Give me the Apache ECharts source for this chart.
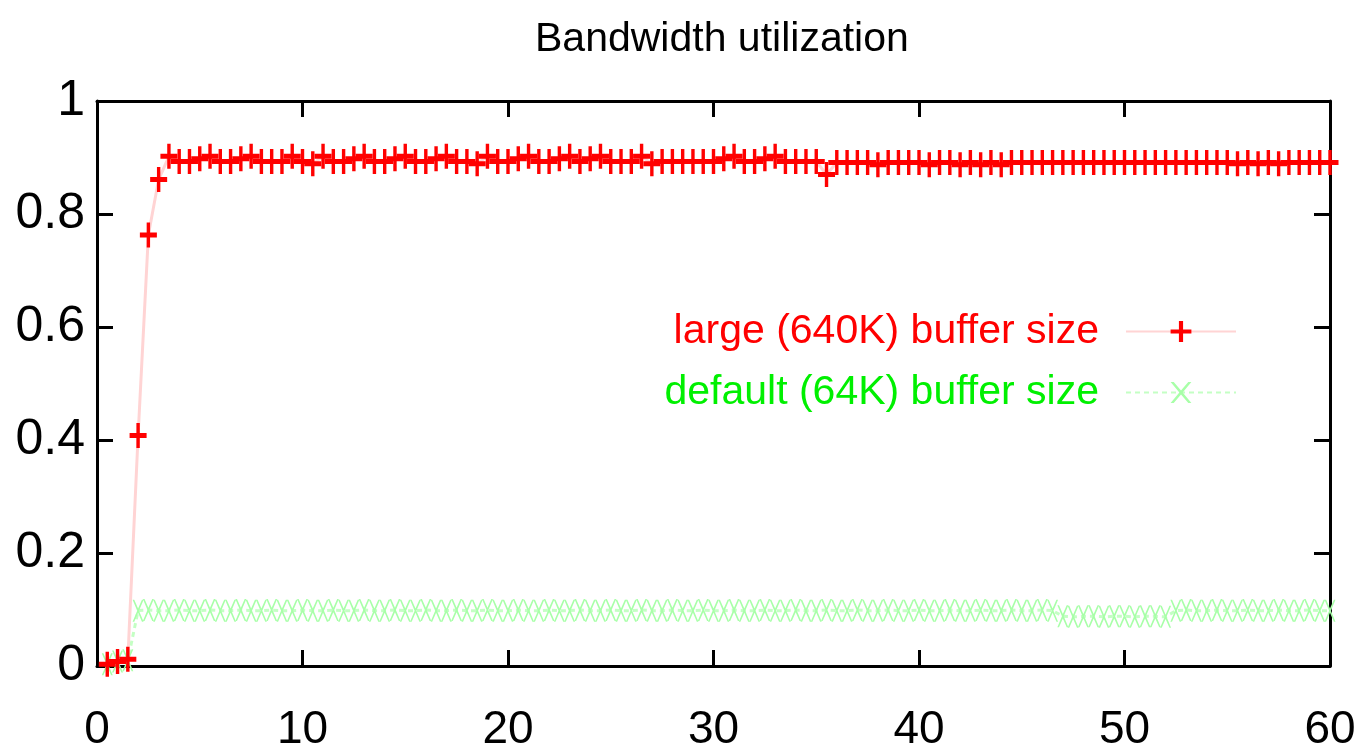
<!DOCTYPE html>
<html>
<head>
<meta charset="utf-8">
<script src="https://cdn.jsdelivr.net/npm/echarts@6/dist/echarts.min.js"></script>
<style>
  html, body { margin: 0; padding: 0; background: #fff; }
  #chart { width: 1362px; height: 755px; }
</style>
</head>
<body>
<div id="chart"></div>
<script>
const titleText = 'Bandwidth utilization';
const seriesNames = ['large (640K) buffer size', 'default (64K) buffer size'];
const xTicks = [0, 10, 20, 30, 40, 50, 60];
const yTicks = [0, 0.2, 0.4, 0.6, 0.8, 1];

const times = [
  0.5, 1.0, 1.5, 2.0, 2.5, 3.0, 3.5, 4.0, 4.5, 5.0,
  5.5, 6.0, 6.5, 7.0, 7.5, 8.0, 8.5, 9.0, 9.5, 10.0,
  10.5, 11.0, 11.5, 12.0, 12.5, 13.0, 13.5, 14.0, 14.5, 15.0,
  15.5, 16.0, 16.5, 17.0, 17.5, 18.0, 18.5, 19.0, 19.5, 20.0,
  20.5, 21.0, 21.5, 22.0, 22.5, 23.0, 23.5, 24.0, 24.5, 25.0,
  25.5, 26.0, 26.5, 27.0, 27.5, 28.0, 28.5, 29.0, 29.5, 30.0,
  30.5, 31.0, 31.5, 32.0, 32.5, 33.0, 33.5, 34.0, 34.5, 35.0,
  35.5, 36.0, 36.5, 37.0, 37.5, 38.0, 38.5, 39.0, 39.5, 40.0,
  40.5, 41.0, 41.5, 42.0, 42.5, 43.0, 43.5, 44.0, 44.5, 45.0,
  45.5, 46.0, 46.5, 47.0, 47.5, 48.0, 48.5, 49.0, 49.5, 50.0,
  50.5, 51.0, 51.5, 52.0, 52.5, 53.0, 53.5, 54.0, 54.5, 55.0,
  55.5, 56.0, 56.5, 57.0, 57.5, 58.0, 58.5, 59.0, 59.5, 60.0
];

const largeBuffer = [
  0.003, 0.008, 0.012, 0.408, 0.763, 0.861, 0.902, 0.893, 0.893, 0.898,
  0.902, 0.893, 0.893, 0.898, 0.902, 0.893, 0.893, 0.893, 0.902, 0.893,
  0.889, 0.902, 0.893, 0.893, 0.898, 0.902, 0.893, 0.893, 0.898, 0.902,
  0.893, 0.893, 0.898, 0.902, 0.893, 0.893, 0.889, 0.902, 0.893, 0.893,
  0.898, 0.902, 0.893, 0.893, 0.898, 0.902, 0.893, 0.898, 0.902, 0.893,
  0.893, 0.893, 0.902, 0.889, 0.893, 0.893, 0.893, 0.893, 0.893, 0.893,
  0.898, 0.902, 0.893, 0.893, 0.898, 0.902, 0.893, 0.893, 0.893, 0.893,
  0.870, 0.891, 0.891, 0.891, 0.891, 0.887, 0.891, 0.891, 0.891, 0.891,
  0.887, 0.891, 0.891, 0.887, 0.891, 0.887, 0.891, 0.887, 0.891, 0.891,
  0.891, 0.891, 0.891, 0.891, 0.891, 0.891, 0.891, 0.891, 0.891, 0.891,
  0.891, 0.891, 0.891, 0.891, 0.891, 0.891, 0.891, 0.891, 0.891, 0.891,
  0.889, 0.891, 0.889, 0.891, 0.889, 0.891, 0.891, 0.891, 0.891, 0.891
];

const defaultBuffer = [
  0.003, 0.008, 0.010, 0.098, 0.099, 0.098, 0.098, 0.099, 0.098, 0.098,
  0.099, 0.098, 0.098, 0.099, 0.098, 0.098, 0.099, 0.098, 0.098, 0.099,
  0.098, 0.098, 0.099, 0.098, 0.098, 0.099, 0.098, 0.098, 0.099, 0.098,
  0.098, 0.099, 0.098, 0.098, 0.099, 0.098, 0.098, 0.099, 0.098, 0.098,
  0.099, 0.098, 0.098, 0.099, 0.098, 0.098, 0.099, 0.098, 0.098, 0.099,
  0.098, 0.098, 0.099, 0.098, 0.098, 0.099, 0.098, 0.098, 0.099, 0.098,
  0.098, 0.099, 0.098, 0.098, 0.099, 0.098, 0.098, 0.099, 0.098, 0.098,
  0.099, 0.098, 0.098, 0.099, 0.098, 0.098, 0.099, 0.098, 0.098, 0.099,
  0.098, 0.098, 0.099, 0.098, 0.098, 0.099, 0.098, 0.098, 0.099, 0.098,
  0.098, 0.099, 0.098, 0.088, 0.087, 0.088, 0.088, 0.087, 0.088, 0.088,
  0.087, 0.088, 0.088, 0.087, 0.098, 0.099, 0.098, 0.098, 0.099, 0.098,
  0.098, 0.099, 0.098, 0.098, 0.099, 0.098, 0.098, 0.099, 0.098, 0.098
];

const FONT = "'Liberation Sans', Arial, sans-serif";
const PLUS = 'path://M4,0 L6,0 L6,4 L10,4 L10,6 L6,6 L6,10 L4,10 L4,6 L0,6 L0,4 L4,4 Z';
const CROSS = 'path://M0,0 L1.5,0 L5,4 L8.5,0 L10,0 L5.8,5 L10,10 L8.5,10 L5,6 L1.5,10 L0,10 L4.2,5 Z';

const chart = echarts.init(document.getElementById('chart'), null, { renderer: 'canvas' });

function pairs(xs, ys) { return xs.map((x, i) => [x, ys[i]]); }
function axisLine() { return { show: true, onZero: false, lineStyle: { color: '#000', width: 3 } }; }
function tickIn() { return { show: true, inside: true, length: 16, lineStyle: { color: '#000', width: 3 } }; }

chart.setOption({
  animation: false,
  backgroundColor: '#fff',
  title: {
    text: titleText,
    left: 530,
    top: 14,
    textStyle: { fontFamily: FONT, fontSize: 41, fontWeight: 'normal', color: '#000' }
  },
  grid: { left: 97, right: 32, top: 101, bottom: 89 },
  legend: {
    orient: 'vertical',
    right: 120,
    top: 306,
    align: 'right',
    itemWidth: 110,
    itemHeight: 26,
    itemGap: 20,
    textStyle: { fontFamily: FONT, fontSize: 41, lineHeight: 41, padding: [0, 22, 0, 0] },
    data: [
      { name: seriesNames[0], textStyle: { color: '#ff0000' } },
      { name: seriesNames[1], textStyle: { color: '#00f000' } }
    ]
  },
  xAxis: [
    {
      type: 'value', position: 'bottom', min: xTicks[0], max: xTicks[xTicks.length - 1], interval: 10,
      axisLine: axisLine(), axisTick: tickIn(), splitLine: { show: false },
      axisLabel: { fontFamily: FONT, fontSize: 46, color: '#000', margin: 41 }
    },
    {
      type: 'value', position: 'top', min: xTicks[0], max: xTicks[xTicks.length - 1], interval: 10,
      axisLine: axisLine(), axisTick: tickIn(), splitLine: { show: false },
      axisLabel: { show: false }
    }
  ],
  yAxis: [
    {
      type: 'value', position: 'left', min: yTicks[0], max: yTicks[yTicks.length - 1], interval: 0.2,
      axisLine: axisLine(), axisTick: tickIn(), splitLine: { show: false },
      axisLabel: { fontFamily: FONT, fontSize: 50, color: '#000', margin: 12 }
    },
    {
      type: 'value', position: 'right', min: yTicks[0], max: yTicks[yTicks.length - 1], interval: 0.2,
      axisLine: axisLine(), axisTick: tickIn(), splitLine: { show: false },
      axisLabel: { show: false }
    }
  ],
  series: [
    {
      name: seriesNames[0],
      type: 'line',
      xAxisIndex: 0,
      yAxisIndex: 0,
      data: pairs(times, largeBuffer),
      symbol: PLUS,
      symbolSize: [17, 25],
      showAllSymbol: true,
      lineStyle: { color: '#ffd4d4', width: 3 },
      itemStyle: { color: '#ff0000' },
      z: 3
    },
    {
      name: seriesNames[1],
      type: 'line',
      xAxisIndex: 1,
      yAxisIndex: 1,
      data: pairs(times, defaultBuffer),
      symbol: CROSS,
      symbolSize: [11, 22],
      showAllSymbol: true,
      lineStyle: { color: '#c4ffc4', width: 3, type: [5, 4] },
      itemStyle: { color: '#a8ffa8' },
      z: 2
    }
  ]
});
</script>
</body>
</html>
